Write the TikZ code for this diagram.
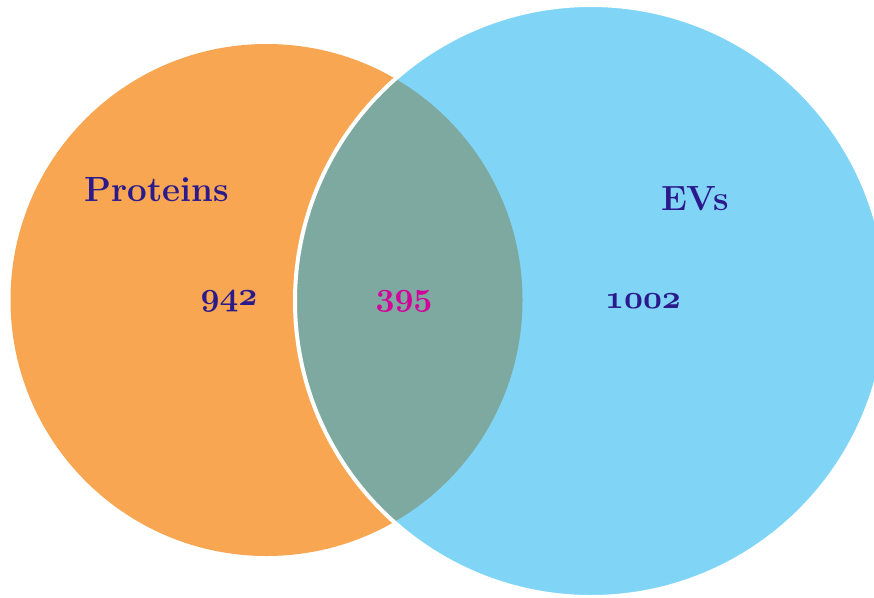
\documentclass[tikz,border=0pt]{standalone}
\usepackage{fix-cm}
\usepackage{tikz}
\definecolor{protOrange}{HTML}{F8A652}
\definecolor{evBlue}{HTML}{80D5F7}
\definecolor{bothGreen}{HTML}{7EA9A0}
\definecolor{labelBlue}{HTML}{2B1A8C}
\definecolor{bothPink}{HTML}{D4009A}
\newcommand{\boldold}[1]{{\fontencoding{OML}\fontfamily{cmm}\fontseries{b}\fontshape{it}\selectfont #1}}

\begin{document}
\begin{tikzpicture}[x=1pt,y=-1pt,
  setname/.style={font=\fontsize{35}{40}\selectfont\bfseries,text=labelBlue,inner sep=0pt},
  setcount/.style={font=\fontsize{33}{38}\selectfont,text=labelBlue,inner sep=0pt}]
  \useasboundingbox (0,0) rectangle (874,597);
  \coordinate (cProt) at (266.5,300);
  \coordinate (cEv) at (591,301);
  % circles
  \fill[protOrange] (cProt) circle (256);
  \fill[evBlue] (cEv) circle (296);
  \begin{scope}
    \clip (cEv) circle (296);
    \fill[bothGreen] (cProt) circle (256);
  \end{scope}
  \draw[white,line width=4pt] (cEv) circle (296);
  % labels
  \node[setname] (proteins) at (157,190) {Proteins};
  \node[setname] (evs) at (695,199) {EVs};
  \node[setcount] (nProt) at (229,301) {\boldold{942}};
  \node[setcount,text=bothPink] (nBoth) at (404,301) {\boldold{395}};
  \node[setcount] (nEv) at (643,301) {\boldold{1002}};
\end{tikzpicture}
\end{document}
